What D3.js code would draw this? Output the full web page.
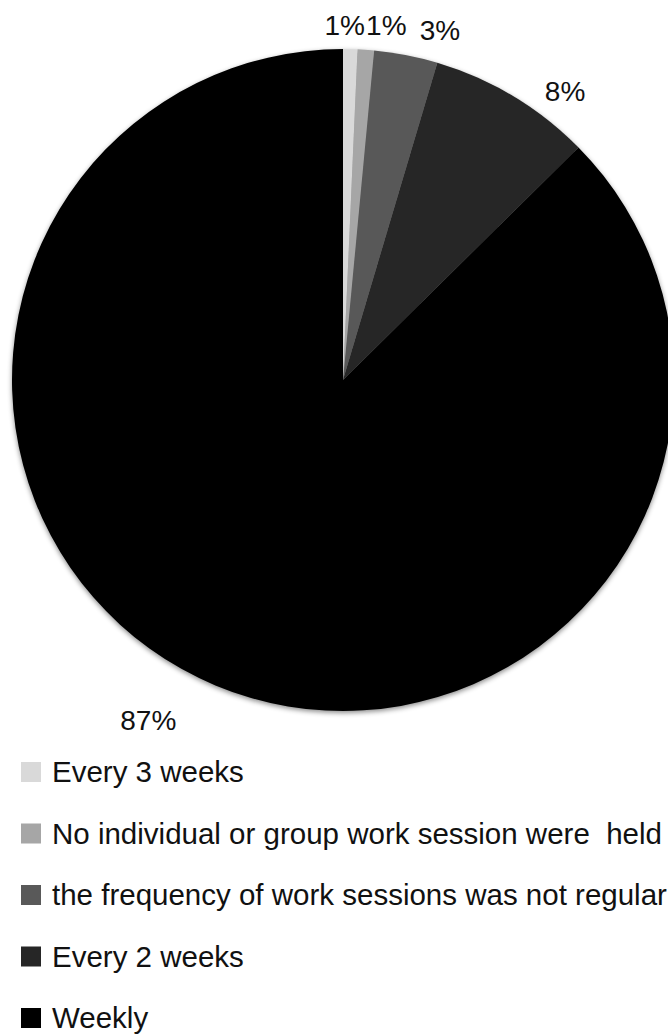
<!DOCTYPE html>
<html>
<head>
<meta charset="utf-8">
<script src="https://cdn.jsdelivr.net/npm/d3@7"></script>
<style>
    body { margin: 0; background: #fff; }
    text { font-family: 'Liberation Sans', Arial, sans-serif; fill: #111; white-space: pre; }
</style>
</head>
<body>
<div id="pie"></div>
<script>
// chart data (percent of respondents)
var categories = [
    'Every 3 weeks',
    'No individual or group work session were  held',
    'the frequency of work sessions was not regular',
    'Every 2 weeks',
    'Weekly'
];
var shares = [0.7, 0.8, 3.1, 8.0, 87.4];
var colours = ['#d9d9d9', '#a6a6a6', '#595959', '#262626', '#000000'];

// svg nominal area
var svgWidth = 668;
var svgHeight = 1034;

// pie geometry
var cx = 343;
var cy = 380;
var radius = 331;
var labelRadius = radius + 21;

// excel moved the data labels a bit off their mid-angle
var labelNudge = [[-6, -3], [19, -4], [30, -4], [41, 13], [-59, 15]];

var svg = d3.select('#pie')
    .append('svg')
    .attr('width', svgWidth)
    .attr('height', svgHeight);

// soft shadow round the pie
var defs = svg.append('defs');
var shadow = defs.append('filter')
    .attr('id', 'shadow')
    .attr('x', '-10%').attr('y', '-10%')
    .attr('width', '120%').attr('height', '120%');
shadow.append('feDropShadow')
    .attr('dx', 0)
    .attr('dy', 2)
    .attr('stdDeviation', 2.5)
    .attr('flood-color', '#000')
    .attr('flood-opacity', 0.45);

var pieData = categories.map((c, i) => ({ name: c, value: shares[i], colour: colours[i] }));

var pie = d3.pie()
    .value(d => d.value)
    .sort(null);

var arc = d3.arc()
    .innerRadius(0)
    .outerRadius(radius);

var labelArc = d3.arc()
    .innerRadius(labelRadius)
    .outerRadius(labelRadius);

var arcs = pie(pieData);

var chartGroup = svg.append('g')
    .attr('transform', `translate(${cx}, ${cy})`);

chartGroup.append('g')
    .attr('filter', 'url(#shadow)')
    .selectAll('path')
    .data(arcs)
    .enter()
    .append('path')
    .attr('d', arc)
    .attr('fill', d => d.data.colour);

// data labels, rounded percents
chartGroup.selectAll('.pieLabel')
    .data(arcs)
    .enter()
    .append('text')
    .attr('class', 'pieLabel')
    .attr('text-anchor', 'middle')
    .attr('dy', '0.35em')
    .attr('font-size', '28px')
    .attr('x', (d, i) => labelArc.centroid(d)[0] + labelNudge[i][0])
    .attr('y', (d, i) => labelArc.centroid(d)[1] + labelNudge[i][1])
    .text(d => Math.round(d.data.value) + '%');

// legend below the pie
var legendY = d3.scalePoint()
    .domain(categories)
    .range([772, 1018]);

var legend = svg.append('g')
    .selectAll('g')
    .data(pieData)
    .enter()
    .append('g')
    .attr('transform', d => `translate(21, ${legendY(d.name)})`);

legend.append('rect')
    .attr('x', 0)
    .attr('y', -10)
    .attr('width', 20)
    .attr('height', 20)
    .attr('fill', d => d.colour);

legend.append('text')
    .attr('x', 31)
    .attr('dy', '0.35em')
    .attr('font-size', '29.5px')
    .text(d => d.name);
</script>
</body>
</html>
